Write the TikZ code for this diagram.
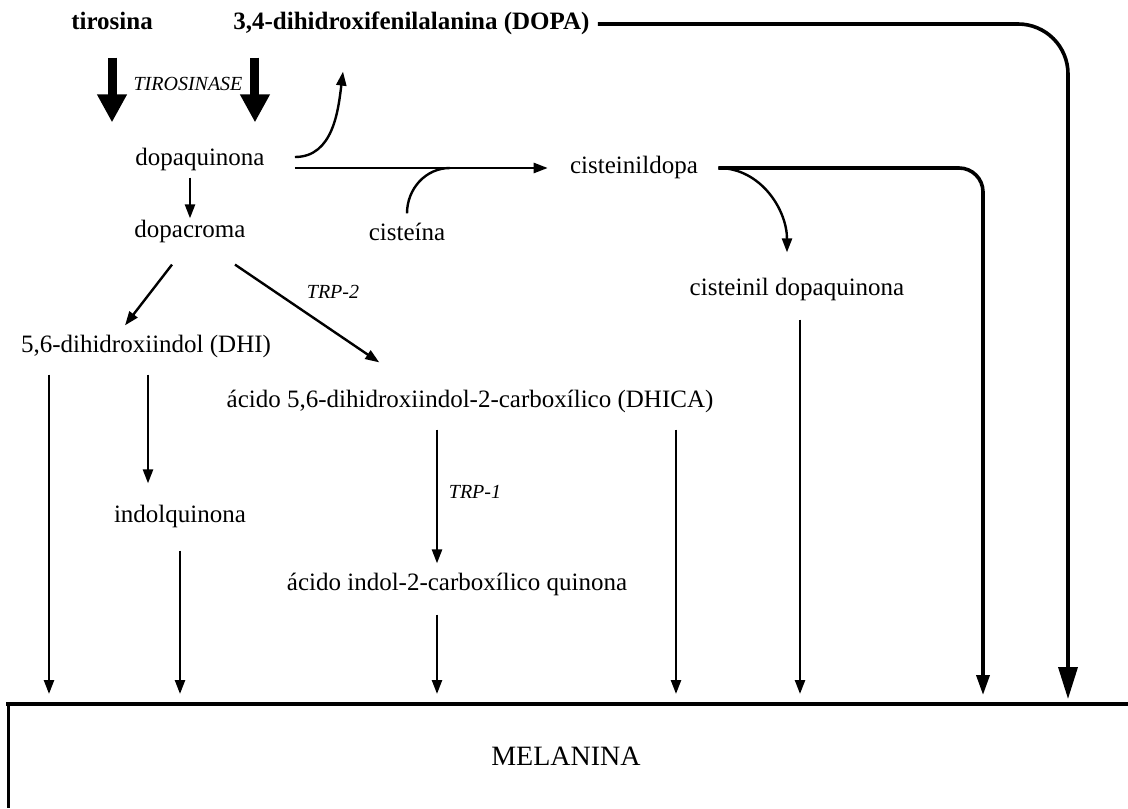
\documentclass[tikz,border=0pt]{standalone}
\usepackage{fontspec}
\setmainfont{Liberation Serif}
\usetikzlibrary{positioning,calc,arrows.meta}
\newcommand*{\txt}{\fontsize{12.5}{14}\selectfont}

\begin{document}
\begin{tikzpicture}[x=0.5pt,y=-0.5pt,
  every node/.style={font=\txt,inner sep=1pt,text height=8.5pt,text depth=2.7pt},
  lbl/.style={font=\fontsize{10}{12}\selectfont\itshape},
  arr/.style={line width=1.2pt,-{Triangle[length=7pt,width=5pt]}},
  fat/.style={line width=4.5pt,-{Triangle[length=14pt,width=14pt]}},
  feed/.style={line width=1.8pt}]
\useasboundingbox (0,0) rectangle (1128,808);
% Substrates and intermediates
\node[font=\txt\bfseries] (tir) at (112,24) {tirosina};
\node[font=\txt\bfseries,anchor=west] (dopa) at (231,24) {3,4-dihidroxifenilalanina (DOPA)};
\node (dq) at (200,160) {dopaquinona};
\node (dc) at (190,232) {dopacroma};
\node (cis) at (407,235) {cisteína};
\node (cd) at (634,168) {cisteinildopa};
\node (cdq) at (797,290) {cisteinil dopaquinona};
\node (dhi) at (146,347) {5,6-dihidroxiindol (DHI)};
\node (dhica) at (470,402) {ácido 5,6-dihidroxiindol-2-carboxílico (DHICA)};
\node (iq) at (180,517) {indolquinona};
\node (aicq) at (457,585) {ácido indol-2-carboxílico quinona};
% Enzyme labels
\node[lbl] (tz) at (188,85) {TIROSINASE};
\node[lbl] (tp2) at (333,293) {TRP-2};
\node[lbl] (tp1) at (475,493) {TRP-1};
% Landing points on top of the melanin box
\path (49,694) coordinate (m1) (180,694) coordinate (m2) (437,694) coordinate (m3)
      (676,694) coordinate (m4) (800,694) coordinate (m5) (983,695) coordinate (m6)
      (1068,699) coordinate (m7) (450,168) coordinate (jn);
% Tyrosinase steps
\draw[fat,shorten <=10pt,shorten >=12pt] (tir.south) -- (tir.south |- dq.north);
\draw[fat,shorten <=10pt,shorten >=12pt] ([xshift=-6pt]dq.north east |- dopa.south)
     -- ([xshift=-6pt]dq.north east);
% Dopaquinone branches
\draw[arr] ([shift={(28,-3)}]dq.east) to[out=0,in=-97] ([shift={(112,34)}]dopa.south west);
\draw[arr,shorten >=10pt] ([shift={(28,8)}]dq.east) -- (cd.west);
\draw[line width=1.2pt] ([yshift=4pt]cis.north) to[out=90,in=180] (jn);
\draw[arr,shorten <=2pt] (dc.north |- dq.south) -- (dc.north);
\draw[arr] ([shift={(-18,19)}]dc.south) -- ([shift={(-21,-8)}]dhi.north);
\draw[arr] ([shift={(45,19)}]dc.south) -- ([shift={(155,-26)}]dhica.north west);
% Cysteinyl branch
\draw[arr] ([xshift=9pt]cd.east) to[out=0,in=90] ([shift={(-10,-24)}]cdq.north);
\draw[feed,rounded corners=12pt,-{Triangle[length=10pt,width=6.5pt]}]
     ([xshift=9pt]cd.east) -| (m6);
\draw[feed,rounded corners=25pt,-{Triangle[length=16pt,width=9.5pt]}]
     ([xshift=3pt]dopa.east) -| (m7);
% Indole branch
\draw[arr,shorten <=7pt] (m1 |- dhi.south) -- (m1);
\draw[arr,shorten <=7pt,shorten >=10pt] ([xshift=-16pt]iq.north |- dhi.south)
     -- ([xshift=-16pt]iq.north);
\draw[arr,shorten <=10pt] (iq.south) -- (m2);
\draw[arr,shorten <=7pt,shorten >=4pt] ([xshift=-10pt]aicq.north |- dhica.south)
     -- ([xshift=-10pt]aicq.north);
\draw[arr,shorten <=8pt] (m3 |- aicq.south) -- (m3);
\draw[arr,shorten <=7pt] (m4 |- dhica.south) -- (m4);
\draw[arr,shorten <=8pt] (m5 |- cdq.south) -- (m5);
% Melanin box
\draw[line width=2pt] (6,704) -- (1128,704);
\draw[line width=1.5pt] (8,704) -- (8,808);
\node[font=\fontsize{14}{16}\selectfont] (mel) at (566,760) {MELANINA};
\end{tikzpicture}
\end{document}
